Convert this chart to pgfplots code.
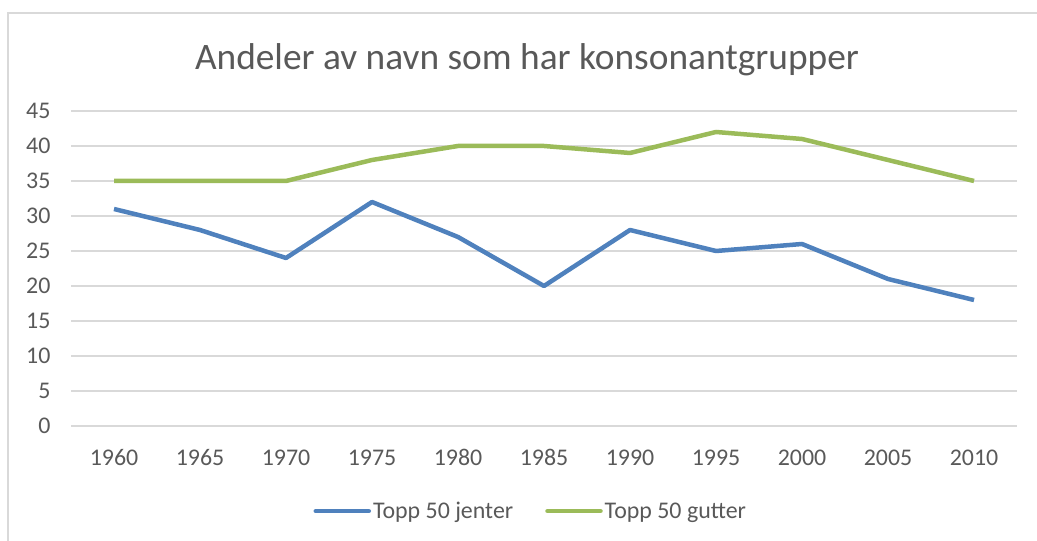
\documentclass[border=0pt]{standalone}
\usepackage{pgfplots}
\pgfplotsset{compat=1.18}
\usepackage{fontspec}
\setmainfont{Carlito}
\definecolor{jblue}{HTML}{4F81BD}
\definecolor{ggreen}{HTML}{9BBB59}
\definecolor{txt}{HTML}{595959}
\definecolor{gridc}{HTML}{D9D9D9}
\begin{document}
\begin{tikzpicture}[x=1bp,y=1bp]
\useasboundingbox (0,0) rectangle (1037,541);
\draw[gridc, line width=1.5bp] (8,-10) rectangle (1050,528);
\node[txt, font=\fontsize{37.5}{42}\selectfont, anchor=base] at (527,471) {Andeler av navn som har konsonantgrupper};
\begin{axis}[
  at={(71bp,115bp)}, anchor=south west,
  scale only axis, width=946bp, height=315bp,
  xmin=-0.5, xmax=10.5, ymin=0, ymax=45,
  xtick={0,...,10},
  xticklabels={1960,1965,1970,1975,1980,1985,1990,1995,2000,2005,2010},
  ytick={0,5,...,45},
  axis line style={draw=none},
  major tick length=0pt,
  xmajorgrids=false, ymajorgrids=true,
  major grid style={draw=gridc, line width=1.2bp},
  tick label style={txt, font=\fontsize{24}{28}\selectfont},
  /pgf/number format/assume math mode=true,
  yticklabel style={xshift=-17bp},
  xticklabel style={yshift=-20bp},
  legend columns=2,
  legend style={draw=none, fill=none, at={(axis description cs:0.486,-0.27)}, anchor=center,
    font=\fontsize{24}{28}\selectfont, text=txt,
    /tikz/every even column/.append style={column sep=30bp}},
  legend image code/.code={\draw[#1, line width=4.5bp, line cap=round] (0bp,0bp) -- (53bp,0bp);},
]
\addplot[jblue, line width=4.5bp, line join=round] coordinates {
(0,31) (1,28) (2,24) (3,32) (4,27) (5,20) (6,28) (7,25) (8,26) (9,21) (10,18)};
\addlegendentry{Topp 50 jenter}
\addplot[ggreen, line width=4.5bp, line join=round] coordinates {
(0,35) (1,35) (2,35) (3,38) (4,40) (5,40) (6,39) (7,42) (8,41) (9,38) (10,35)};
\addlegendentry{Topp 50 gutter}
\end{axis}
\end{tikzpicture}
\end{document}
